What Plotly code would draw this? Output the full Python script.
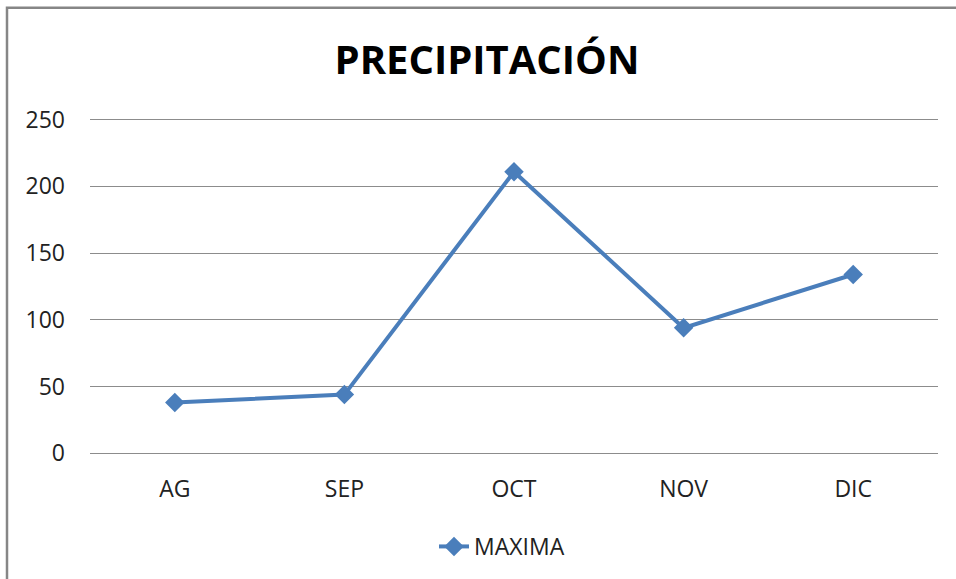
import plotly.graph_objects as go

categories = ["AG", "SEP", "OCT", "NOV", "DIC"]
maxima = [38, 44, 211, 94, 134]
y_ticks = [0, 50, 100, 150, 200, 250]

W, H = 956, 579
Y0_PX, Y250_PX = 454, 120
ppu = (Y0_PX - Y250_PX) / 250.0
pad = 5
L, R = 90, 18
T = Y250_PX - pad * ppu
B = H - (Y0_PX + pad * ppu)
pw, ph = W - L - R, H - T - B

def px(x):
    return (x - L) / pw

def py(y):
    return (H - B - y) / ph

fig = go.Figure()
fig.add_trace(go.Scatter(
    x=categories, y=maxima, mode="lines+markers", name="MAXIMA",
    line=dict(color="#4A7EBB", width=4),
    marker=dict(symbol="diamond", size=15, color="#4A7EBB"),
))

fig.update_layout(
    width=W, height=H,
    margin=dict(l=L, r=R, t=T, b=B, pad=0),
    paper_bgcolor="white", plot_bgcolor="white",
    font=dict(family="Open Sans", size=23, color="#222"),
    title=dict(text="<b>PRECIPITACIÓN</b>", x=487 / W, xanchor="center",
               y=1 - 60 / H, yanchor="middle",
               font=dict(family="Open Sans", size=40, color="black")),
    showlegend=True,
    legend=dict(orientation="h", x=px(502), xanchor="center", y=py(546), yanchor="middle",
                font=dict(size=23, color="#222")),
    xaxis=dict(range=[-0.5, 4.5], showgrid=False, showline=False, zeroline=False,
               ticks="", ticklabelstandoff=13),
    yaxis=dict(range=[-pad, 250 + pad], tickvals=y_ticks, showgrid=True, gridcolor="#8c8c8c",
               gridwidth=1.3, zeroline=False, showline=False, ticks="",
               ticklabelstandoff=24),
    shapes=[dict(type="rect", xref="paper", yref="paper",
                 x0=px(7), x1=px(1000), y0=py(8), y1=py(700),
                 line=dict(color="#868686", width=2.5), fillcolor="rgba(0,0,0,0)",
                 layer="below")],
)

fig.write_html("out.html", config={"displayModeBar": False})
with open("out.html", encoding="utf-8") as f:
    html = f.read()
html = html.replace("<body>", '<body style="margin:0;overflow:hidden">', 1)
with open("out.html", "w", encoding="utf-8") as f:
    f.write(html)
